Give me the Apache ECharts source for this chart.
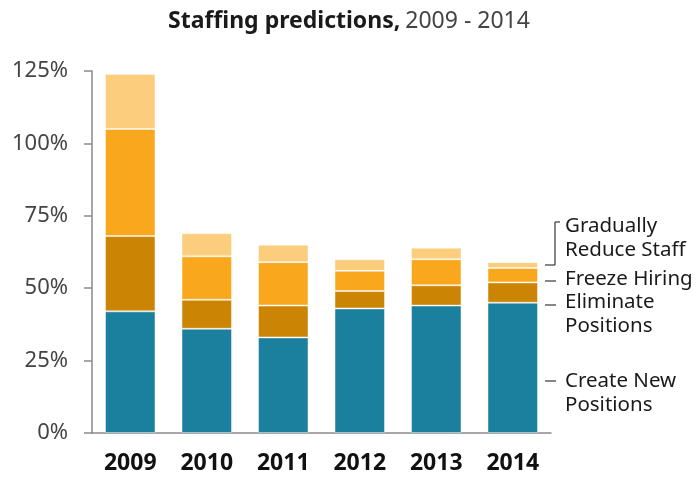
<!DOCTYPE html>
<html>
<head>
<meta charset="utf-8">
<script src="https://cdn.jsdelivr.net/npm/echarts@6/dist/echarts.min.js"></script>
<style>
  html, body { margin: 0; padding: 0; background: #fff; }
  #chart { width: 698px; height: 478px; }
</style>
</head>
<body>
<div id="chart"></div>
<script>
const years = ['2009', '2010', '2011', '2012', '2013', '2014']
const createNew = [42, 36, 33, 43, 44, 45]
const eliminate = [26, 10, 11, 6, 7, 7]
const freezeHiring = [37, 15, 15, 7, 9, 5]
const reduceStaff = [19, 8, 6, 4, 4, 2]
const yTicks = [0, 25, 50, 75, 100, 125]

const FONT = 'Noto Sans'
const AXIS = '#8a8a8a'

const chart = echarts.init(document.getElementById('chart'))

const mkSeries = (name, data, color) => ({
  name,
  type: 'bar',
  stack: 'total',
  data,
  barWidth: '66%',
  itemStyle: { color, borderColor: 'rgba(255,255,255,0.45)', borderWidth: 1 }
})

// right-hand annotations (label text + small leader lines)
const ann = (text, x, y) => ({
  type: 'text', left: x, top: y,
  style: { text, font: '20.5px "Noto Sans"', fill: '#1a1a1a', lineHeight: 24 }
})
const line = (x1, y1, x2, y2) => ({
  type: 'line', shape: { x1, y1, x2, y2 },
  style: { stroke: '#444', lineWidth: 1.3 }
})

chart.setOption({
  animation: false,
  title: {
    text: '{b|Staffing predictions,} {n|2009 - 2014}',
    left: 'center',
    top: 5,
    textStyle: {
      rich: {
        b: { fontFamily: FONT, fontWeight: 'bold', fontSize: 23, color: '#1a1a1a' },
        n: { fontFamily: FONT, fontWeight: 'normal', fontSize: 23, color: '#444' }
      }
    }
  },
  grid: { left: 92, right: 147, top: 71, bottom: 45 },
  xAxis: {
    type: 'category',
    data: years,
    axisLine: { lineStyle: { color: AXIS, width: 1.5 } },
    axisTick: { length: 8, lineStyle: { color: AXIS, width: 1.5 } },
    axisLabel: { margin: 19, fontFamily: FONT, fontWeight: 'bold', fontSize: 23, color: '#111' }
  },
  yAxis: {
    type: 'value',
    min: yTicks[0],
    max: yTicks[yTicks.length - 1],
    interval: 25,
    splitLine: { show: false },
    axisLine: { show: true, lineStyle: { color: AXIS, width: 1.5 } },
    axisTick: { show: true, length: 8, lineStyle: { color: AXIS, width: 1.5 } },
    axisLabel: { margin: 24, fontFamily: FONT, fontSize: 22, color: '#444', formatter: '{value}%' }
  },
  series: [
    mkSeries('Create New Positions', createNew, '#1b7f9e'),
    mkSeries('Eliminate Positions', eliminate, '#cc8405'),
    mkSeries('Freeze Hiring', freezeHiring, '#f9a81e'),
    mkSeries('Gradually Reduce Staff', reduceStaff, '#fbcd7c')
  ],
  graphic: [
    line(545, 265, 555, 265),
    line(555, 265, 555, 222),
    line(555, 222, 560, 222),
    ann('Gradually\nReduce Staff', 565, 214),
    line(545, 281, 556, 281),
    ann('Freeze Hiring', 565, 267),
    line(545, 305, 556, 305),
    ann('Eliminate\nPositions', 565, 290),
    line(545, 381, 556, 381),
    ann('Create New\nPositions', 565, 369)
  ]
})
</script>
</body>
</html>
